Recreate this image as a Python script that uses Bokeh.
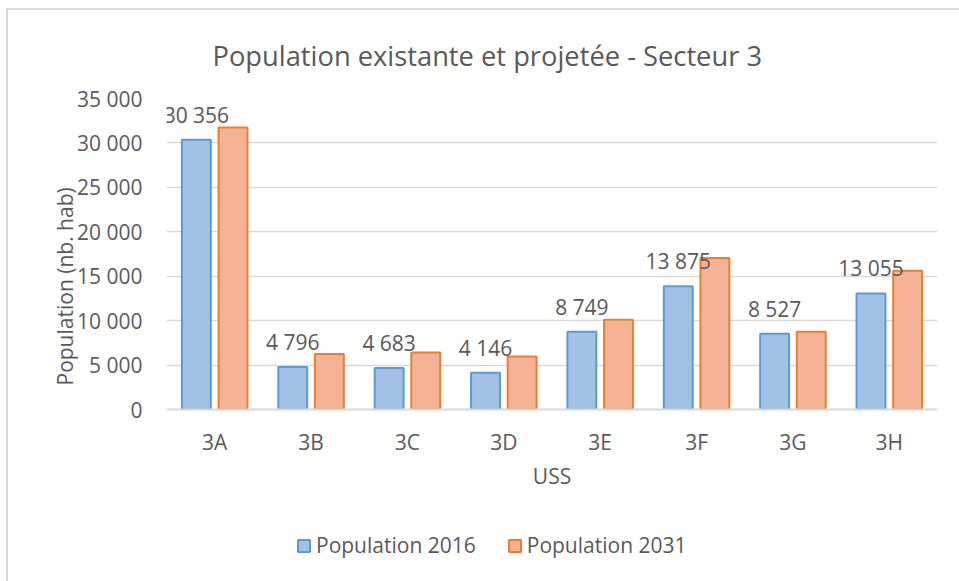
from bokeh.plotting import figure
from bokeh.models import (ColumnDataSource, FactorRange, Range1d, FixedTicker,
                          LabelSet, Legend, LegendItem, Title)
from bokeh.core.properties import value
from bokeh.layouts import column
from bokeh.transform import dodge
from bokeh.embed import file_html
from bokeh.resources import INLINE

# ---- data ----
categories = ["3A", "3B", "3C", "3D", "3E", "3F", "3G", "3H"]
pop_2016 = [30356, 4796, 4683, 4146, 8749, 13875, 8527, 13055]
pop_2031 = [31750, 6240, 6420, 5970, 10100, 17050, 8750, 15620]
y_ticks = [0, 5000, 10000, 15000, 20000, 25000, 30000, 35000]
y_tick_labels = ["0", "5 000", "10 000", "15 000", "20 000", "25 000", "30 000", "35 000"]
series_names = ["Population 2016", "Population 2031"]
title_text = "Population existante et projetée - Secteur  3"
y_title = "Population (nb. hab)"
x_title = "USS"

FONT = "Open Sans"
TXT = "#595959"
GRID = "#d9d9d9"
FILL16, LINE16 = "#a3c0e5", "#5b9bd5"
FILL31, LINE31 = "#f6b294", "#ed7d31"

labels_2016 = [f"{v:,}".replace(",", " ") for v in pop_2016]
src = ColumnDataSource(dict(cat=categories, p16=pop_2016, p31=pop_2031, lab=labels_2016))

p = figure(width=951, height=518, x_range=FactorRange(factors=categories),
           y_range=Range1d(0, 35000), output_backend="svg", toolbar_location=None,
           min_border_left=158, min_border_right=22, min_border_top=88, min_border_bottom=119)
p.x_range.range_padding = 0
p.outline_line_color = None
p.background_fill_color = "white"
p.border_fill_color = "white"

# title
p.title.text = title_text
p.title.align = "left"
p.title.offset = 46
p.title.text_font = FONT
p.title.text_font_size = "27.3px"
p.title.text_font_style = "normal"
p.title.text_color = TXT
p.title.standoff = 49

# bars
r16 = p.vbar(x=dodge("cat", -0.19, range=p.x_range), top="p16", width=0.30, bottom=0,
             source=src, fill_color=FILL16, line_color=LINE16, line_width=2)
r31 = p.vbar(x=dodge("cat", 0.19, range=p.x_range), top="p31", width=0.30, bottom=0,
             source=src, fill_color=FILL31, line_color=LINE31, line_width=2)

# data labels (2016 series)
ls = LabelSet(x=dodge("cat", -0.19, range=p.x_range), y="p16", text="lab", source=src,
              text_align="center", text_baseline="middle", y_offset=25,
              text_font=value(FONT), text_font_size=value("21px"), text_color=value(TXT))
p.add_layout(ls)

# axes
p.xgrid.grid_line_color = None
p.ygrid.grid_line_color = GRID
p.ygrid.grid_line_width = 1.5
p.yaxis.ticker = FixedTicker(ticks=y_ticks)
p.yaxis.major_label_overrides = {t: l for t, l in zip(y_ticks, y_tick_labels)}
for ax in (p.xaxis, p.yaxis):
    ax.major_tick_line_color = None
    ax.minor_tick_line_color = None
    ax.major_label_text_font = FONT
    ax.major_label_text_font_size = "21px"
    ax.major_label_text_color = TXT
    ax.axis_label_text_font = FONT
    ax.axis_label_text_font_size = "21px"
    ax.axis_label_text_font_style = "normal"
    ax.axis_label_text_color = TXT
p.yaxis.axis_line_color = None
p.yaxis.major_label_standoff = 18
p.xaxis.axis_line_color = GRID
p.xaxis.axis_line_width = 2
p.xaxis.major_label_standoff = 12
p.xaxis.axis_label = x_title
p.xaxis.axis_label_standoff = 3

# y-axis title (side title, starting a little above the baseline)
ytitle = Title(text=y_title, align="left", offset=24, standoff=-9,
               text_font=FONT, text_font_size="21px", text_font_style="normal",
               text_color=TXT)
p.add_layout(ytitle, "left")

# legend strip below the chart (renderers hidden, only their legend swatches show)
leg = figure(width=951, height=53, x_range=p.x_range, y_range=Range1d(0, 35000),
             output_backend="svg", toolbar_location=None, x_axis_type=None, y_axis_type=None,
             min_border_left=0, min_border_right=0, min_border_top=0, min_border_bottom=0)
leg.outline_line_color = None
leg.grid.grid_line_color = None
d16 = leg.vbar(x=dodge("cat", -0.19, range=p.x_range), top="p16", width=0.30, source=src,
               fill_color=FILL16, line_color=LINE16, line_width=2, visible=False)
d31 = leg.vbar(x=dodge("cat", 0.19, range=p.x_range), top="p31", width=0.30, source=src,
               fill_color=FILL31, line_color=LINE31, line_width=2, visible=False)
legend = Legend(items=[LegendItem(label=series_names[0], renderers=[d16], index=0),
                       LegendItem(label=series_names[1], renderers=[d31], index=0)],
                location=(130, 22), orientation="horizontal",
                glyph_width=15, glyph_height=15, label_standoff=5, spacing=31,
                padding=0, margin=0, background_fill_alpha=0, border_line_color=None,
                inactive_fill_alpha=0,
                label_text_font=FONT, label_text_font_size="21px", label_text_color=TXT)
leg.add_layout(legend)

layout = column(p, leg, spacing=0)
layout.styles = {"margin-left": "6px", "margin-top": "8px",
                 "border-left": "2px solid #d9d9d9", "border-top": "2px solid #d9d9d9"}
open("out.html", "w").write(file_html(layout, INLINE))
